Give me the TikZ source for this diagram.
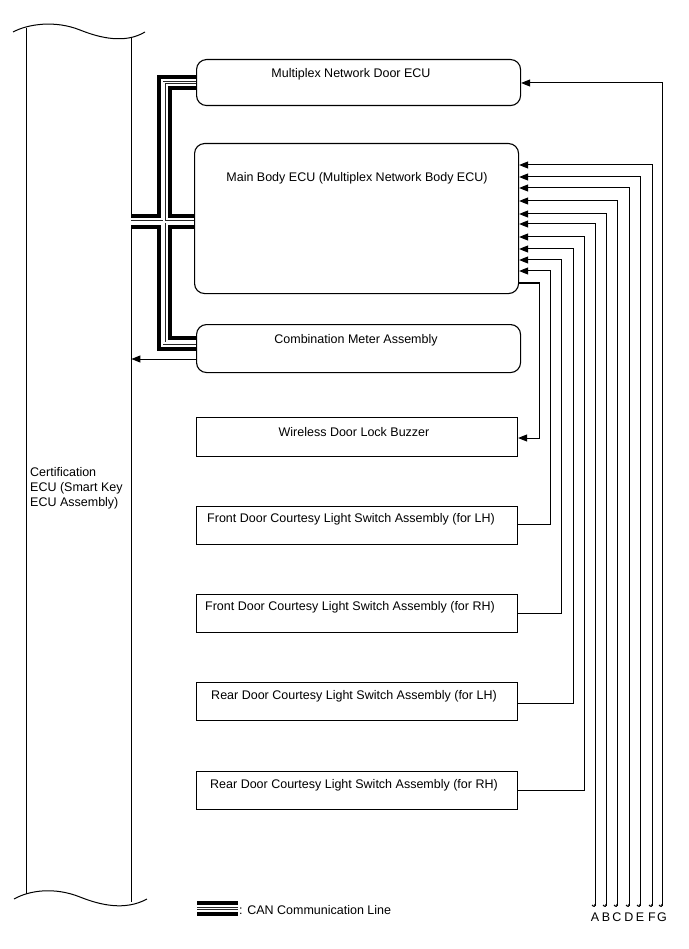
\documentclass[tikz,border=0pt]{standalone}
\usepackage{fontspec}
\setmainfont{Liberation Sans}
\usetikzlibrary{arrows.meta}
\begin{document}
\begin{tikzpicture}[x=1pt,y=-1pt,
  every node/.style={font=\fontsize{12.5}{15}\selectfont, inner sep=0pt},
  rbox/.style={draw, line width=1.1pt, rounded corners=10pt, anchor=north west},
  sbox/.style={draw, line width=1.1pt, anchor=north west},
  wire/.style={line width=1pt, line join=miter},
  arr/.style={wire, -{Triangle[length=9pt,width=7pt]}},
  lbl/.style={anchor=center}
]
\useasboundingbox (0,0) rectangle (688,949);

% Certification ECU (tall box)
\node[minimum width=106pt, minimum height=870pt, anchor=north west] (cert) at (25,32) {};
\draw[wire] (13,32) .. controls (28,24) and (55,20) .. (80,30) .. controls (100,38) and (125,44) .. (145,32);
\draw[wire] (14,899) .. controls (30,890) and (55,887) .. (80,897) .. controls (100,905) and (125,911) .. (147,899);
\draw[wire] (26,28) -- (26,894);
\draw[wire] (131,38) -- (131,902);
\node[align=left, anchor=west] (certtxt) at (30,488) {Certification\\ECU (Smart Key\\ECU Assembly)};

% Boxes
\node[rbox, minimum width=324pt, minimum height=46pt] (door) at (196,59) {};
\node[lbl] (doortxt) at (351,74) {Multiplex Network Door ECU};
\node[rbox, minimum width=324pt, minimum height=150pt] (mb) at (194,143) {};
\node[lbl] (mbtxt) at (357,178) {Main Body ECU (Multiplex Network Body ECU)};
\node[rbox, minimum width=324pt, minimum height=48pt] (meter) at (196,324) {};
\node[lbl] (metertxt) at (356,340) {Combination Meter Assembly};
\node[sbox, minimum width=321pt, minimum height=39pt] (bz) at (196,417) {};
\node[lbl] (bztxt) at (354,432) {Wireless Door Lock Buzzer};
\node[sbox, minimum width=321pt, minimum height=38pt] (flh) at (196,506) {};
\node[lbl] (flhtxt) at (351,519) {Front Door Courtesy Light Switch Assembly (for LH)};
\node[sbox, minimum width=321pt, minimum height=38pt] (frh) at (196,594) {};
\node[lbl] (frhtxt) at (350,607) {Front Door Courtesy Light Switch Assembly (for RH)};
\node[sbox, minimum width=321pt, minimum height=38pt] (rlh) at (196,682) {};
\node[lbl] (rlhtxt) at (354,696) {Rear Door Courtesy Light Switch Assembly (for LH)};
\node[sbox, minimum width=321pt, minimum height=38pt] (rrh) at (196,771) {};
\node[lbl] (rrhtxt) at (354,785) {Rear Door Courtesy Light Switch Assembly (for RH)};

% CAN bus
\coordinate (busA) at (164,82.5);
\coordinate (busB) at (164,343);
\foreach \w/\c in {15/black,7/white,3/black!85,1.2/white}{
  \draw[line width=\w pt, \c, line join=miter] (door.west |- busA) -- (busA) -- (busB) -- (meter.west |- busB);
  \draw[line width=\w pt, \c] (cert.east |- 0,222) -- (mb.west |- 0,222);
  \draw[line width=\w pt, \c] (197,908.5) -- (238,908.5);
}
\node[anchor=west] (legend) at (239,910) {: CAN Communication Line};

% Meter -> Certification ECU
\draw[arr] (meter.west |- 0,359) -- (cert.east |- 0,359);

% Bottom terminals A-G
\foreach \n/\x in {A/595,B/606,C/617,D/629,E/640,F/652,G/662}{
  \coordinate (\n) at (\x,906);
  \draw[wire] (\x,904) .. controls (\x,907) and (\x-1,907) .. (\x-3,905);
  \node[anchor=north] (l\n) at (\x,913) {\n};
}
\draw[arr] (G) |- (door.east |- 0,83);
\draw[arr] (F) |- (mb.east |- 0,165);
\draw[arr] (E) |- (mb.east |- 0,177);
\draw[arr] (D) |- (mb.east |- 0,188);
\draw[arr] (C) |- (mb.east |- 0,201);
\draw[arr] (B) |- (mb.east |- 0,214);
\draw[arr] (A) |- (mb.east |- 0,224);

% Switches -> Main body
\draw[arr] (rrh.east |- 0,790) -| (584,237) -- (mb.east |- 0,237);
\draw[arr] (rlh.east |- 0,703) -| (573,249) -- (mb.east |- 0,249);
\draw[arr] (frh.east |- 0,613) -| (561,260) -- (mb.east |- 0,260);
\draw[arr] (flh.east |- 0,524) -| (550,271) -- (mb.east |- 0,271);

% Main body -> Buzzer
\draw[arr] (mb.east |- 0,283) -| (539,438) -- (bz.east |- 0,438);
\end{tikzpicture}
\end{document}
